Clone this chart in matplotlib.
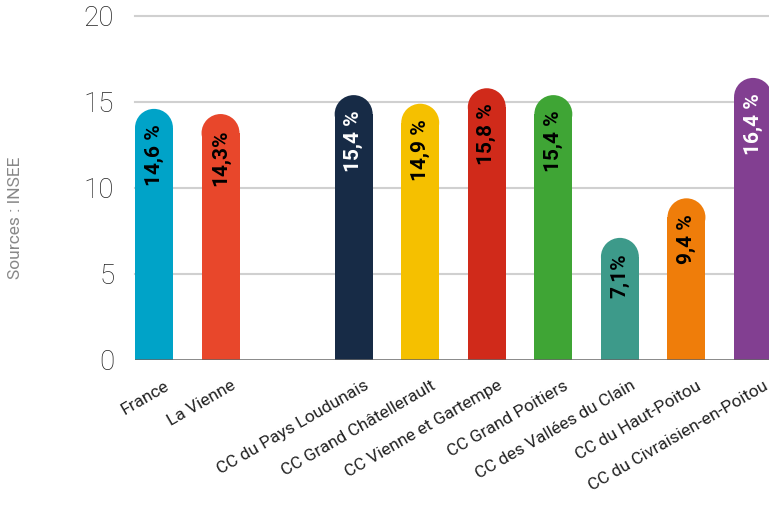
import numpy as np
import matplotlib
matplotlib.use("Agg")
import matplotlib.pyplot as plt
from matplotlib.patches import Ellipse
from matplotlib.transforms import ScaledTranslation

plt.rcParams['font.family'] = ['Roboto', 'DejaVu Sans']

# data
territoires = ['France', 'La Vienne', '', 'CC du Pays Loudunais', 'CC Grand Châtellerault',
               'CC Vienne et Gartempe', 'CC Grand Poitiers', 'CC des Vallées du Clain',
               'CC du Haut-Poitou', 'CC du Civraisien-en-Poitou']
valeurs = [14.6, 14.3, np.nan, 15.4, 14.9, 15.8, 15.4, 7.1, 9.4, 16.4]
etiquettes = ['14,6 %', '14,3%', '', '15,4 %', '14,9 %', '15,8 %', '15,4 %', '7,1%', '9,4 %', '16,4 %']
couleurs = ['#00A3C8', '#E8472B', 'white', '#172B46', '#F5C000', '#D02A1A',
            '#3FA535', '#3D9A8A', '#EF7D0A', '#823F91']
couleurs_texte = ['black', 'black', 'black', 'white', 'black', 'black',
                  'black', 'black', 'black', 'white']

fig = plt.figure(figsize=(7.69, 5.17), dpi=100)
ax = fig.add_axes([135 / 769, 157 / 517, 634 / 769, 344 / 517])

x = np.arange(len(territoires))
larg = 0.57
xmin, xmax = -0.285, 9.24
ax.set_xlim(xmin, xmax)
ax.set_ylim(0, 20)

# rayon vertical de l'arrondi en unites de donnees
ppx = 634 / (xmax - xmin)
ppy = 344 / 20
ry = (larg / 2) * ppx / ppy

for xi, v, c, lab, tc in zip(x, valeurs, couleurs, etiquettes, couleurs_texte):
    if np.isnan(v):
        continue
    ax.bar(xi, v - ry, width=larg, color=c, zorder=3, linewidth=0)
    ax.add_patch(Ellipse((xi, v - ry), larg, 2 * ry, color=c, zorder=3, linewidth=0))
    ax.text(xi, v - 0.9, lab, rotation=90, ha='center', va='top', fontsize=15,
            fontweight='bold', color=tc, zorder=4)

ax.set_yticks([0, 5, 10, 15, 20])
for y in [5, 10, 15, 20]:
    ax.axhline(y, color='#d0d0d0', linewidth=1.5, zorder=1, clip_on=False)
ax.axhline(0, color='#666666', linewidth=1.8, zorder=5)

for s in ax.spines.values():
    s.set_visible(False)
ax.tick_params(axis='both', length=0)
ax.tick_params(axis='y', pad=15)
for t in ax.get_yticklabels():
    t.set_fontsize(20)
    t.set_fontweight('light')
    t.set_color('#222222')

ax.set_xticks(x)
ax.set_xticklabels(territoires, rotation=30, ha='right', va='top', rotation_mode='anchor',
                   fontsize=12.5, color='#222222')
ax.tick_params(axis='x', pad=13)
decal = ScaledTranslation(10 / 100, 0, fig.dpi_scale_trans)
for t in ax.get_xticklabels():
    t.set_transform(t.get_transform() + decal)

fig.text(15 / 769, 1 - 218 / 517, 'Sources : INSEE', rotation=90, ha='center', va='center',
         fontsize=12.5, color='#888888')

fig.savefig('out.png', dpi=100)
